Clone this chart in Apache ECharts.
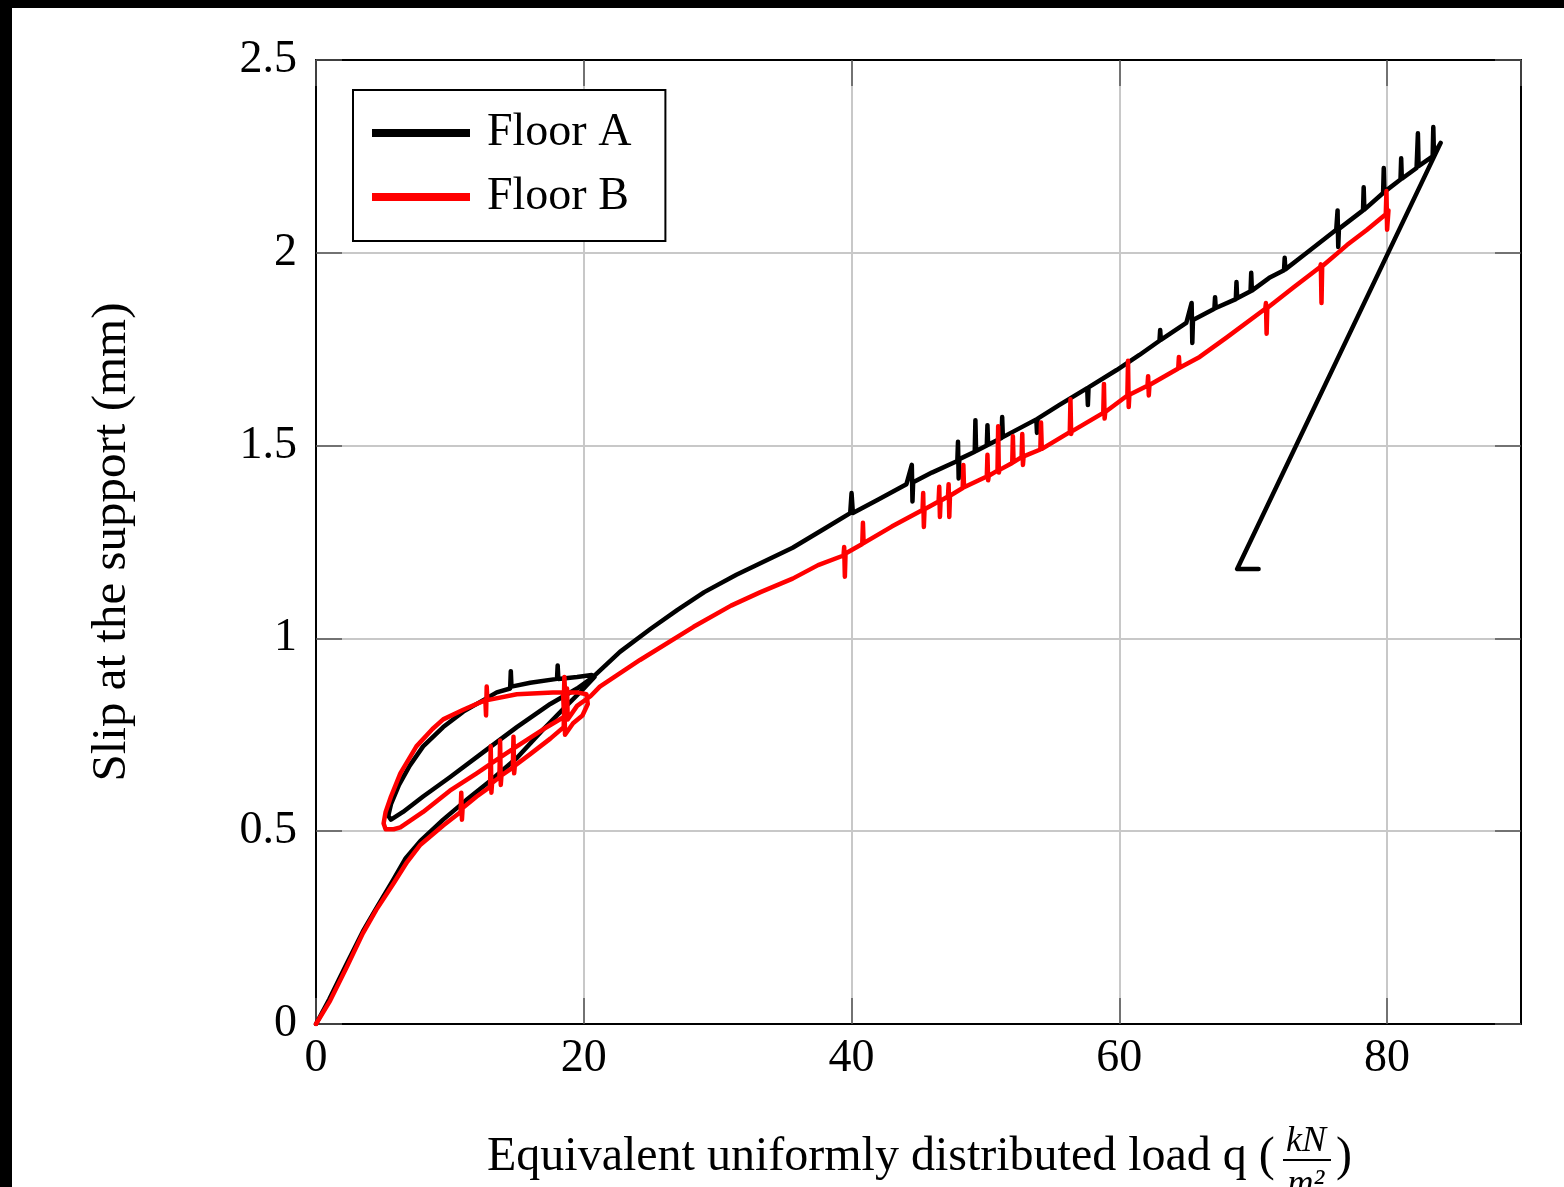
<!DOCTYPE html>
<html>
<head>
<meta charset="utf-8">
<script src="https://cdn.jsdelivr.net/npm/echarts@6/dist/echarts.min.js"></script>
<style>
html,body{margin:0;padding:0;background:#fff;}
#chart{width:1564px;height:1187px;}
</style>
</head>
<body>
<div id="chart"></div>
<script>
// ---- Data (q in kN/m2, slip in mm) ----
var xTicks = [0, 20, 40, 60, 80];
var yTicks = [0, 0.5, 1, 1.5, 2, 2.5];

// Floor A (black)
var floorA_initial = [[0,0],[1,0.065],[2.2,0.15],[3.5,0.24],[4.5,0.3],[5.7,0.37],[6.7,0.43],[7.8,0.475],[9.5,0.53],[11.2,0.58],[13,0.63],[15,0.69],[17,0.765],[18.7,0.825],[20,0.87],[20.8,0.9]];
var floorA_unload1 = [[20.6,0.905],[19.5,0.9],[18.1,0.895],[18.05,0.93],[18,0.895],[16,0.885],[14.6,0.875],[14.55,0.915],[14.5,0.87],[13.5,0.86],[12.5,0.84],[11,0.81],[9.5,0.77],[8,0.72],[7,0.67],[6.2,0.62],[5.6,0.57],[5.4,0.54]];
var floorA_reload = [[5.6,0.53],[6.5,0.55],[8,0.59],[10,0.64],[12.5,0.705],[15,0.77],[17.5,0.83],[19.5,0.87],[20.7,0.9]];
var floorA_main = [[22.7,0.965],[25,1.025],[27,1.074],[29,1.12],[31.4,1.165],[33.5,1.2],[35.6,1.235],[38,1.285],[39.9,1.325],[40,1.377],[40.1,1.325],[42,1.36],[44.1,1.4],[44.5,1.45],[44.55,1.355],[44.6,1.405],[46,1.43],[47.9,1.46],[47.95,1.51],[48,1.415],[48.05,1.465],[49.2,1.484],[49.25,1.566],[49.3,1.486],[50.1,1.5],[50.15,1.553],[50.2,1.502],[51.2,1.52],[51.25,1.574],[51.3,1.522],[53.8,1.568],[53.85,1.533],[53.9,1.57],[55.5,1.605],[57.6,1.649],[57.65,1.605],[57.7,1.651],[59.8,1.696],[61.5,1.735],[63,1.772],[63.05,1.8],[63.1,1.774],[65,1.818],[65.4,1.87],[65.45,1.766],[65.5,1.826],[67.1,1.855],[67.15,1.885],[67.2,1.857],[68.7,1.88],[68.75,1.924],[68.8,1.882],[69.8,1.9],[69.85,1.948],[69.9,1.902],[71.2,1.935],[72.3,1.955],[72.35,1.987],[72.4,1.957],[74,2.0],[76.2,2.06],[76.3,2.11],[76.35,2.015],[76.4,2.062],[78.2,2.11],[78.25,2.17],[78.3,2.112],[79.7,2.155],[79.75,2.22],[79.8,2.158],[81,2.19],[81.05,2.245],[81.1,2.192],[82.2,2.22],[82.3,2.31],[82.35,2.225],[83.4,2.25],[83.45,2.326],[83.5,2.255],[84,2.285]];
var floorA_unload2 = [[68.8,1.18],[70.4,1.18]];

// Floor B (red)
var floorB_initial = [[0,0],[1.05,0.06],[2.3,0.148],[3.5,0.235],[4.5,0.296],[5.8,0.365],[6.8,0.42],[7.8,0.465],[9.5,0.515],[10.8,0.55],[10.85,0.6],[10.9,0.53],[10.95,0.56],[12,0.59],[13,0.615],[13.05,0.72],[13.1,0.6],[13.15,0.625],[13.7,0.64],[13.75,0.735],[13.8,0.62],[13.85,0.645],[14.7,0.665],[14.75,0.745],[14.8,0.65],[14.85,0.67],[16,0.7],[17.5,0.74],[18.5,0.77],[18.55,0.84],[18.6,0.75],[19.2,0.78],[19.9,0.8],[20.3,0.83]];
var floorB_unload1 = [[20.2,0.855],[19.5,0.86],[18.6,0.86],[18.55,0.9],[18.5,0.82],[18.45,0.86],[17.7,0.86],[15,0.855],[12.8,0.84],[12.75,0.875],[12.7,0.8],[12.65,0.84],[11,0.815],[9.5,0.79],[8.7,0.765],[7.5,0.72],[6.3,0.65],[5.6,0.59],[5.2,0.55],[5.05,0.52],[5.2,0.505],[5.8,0.505]];
var floorB_reload = [[6.3,0.51],[8,0.55],[10,0.605],[12,0.65],[13.7,0.69],[15,0.72],[17,0.765],[18.7,0.8],[18.75,0.87],[18.8,0.79],[19.5,0.825],[20.5,0.85],[21.2,0.875]];
var floorB_main = [[24.2,0.944],[28.2,1.03],[31,1.085],[33.2,1.12],[35.6,1.155],[37.5,1.19],[39.4,1.215],[39.45,1.237],[39.5,1.16],[39.55,1.22],[40.8,1.245],[40.85,1.3],[40.9,1.247],[43,1.29],[45.3,1.333],[45.35,1.377],[45.4,1.289],[45.45,1.335],[46.5,1.355],[46.55,1.393],[46.6,1.315],[46.65,1.357],[47.2,1.368],[47.25,1.4],[47.3,1.315],[47.35,1.37],[48.3,1.39],[48.35,1.45],[48.4,1.392],[50.1,1.42],[50.15,1.476],[50.2,1.41],[50.25,1.422],[50.9,1.435],[50.95,1.55],[51,1.43],[51.05,1.437],[52,1.455],[52.05,1.524],[52.1,1.457],[52.7,1.47],[52.75,1.53],[52.8,1.45],[52.85,1.472],[54.1,1.49],[54.15,1.56],[54.2,1.5],[54.25,1.492],[56.3,1.535],[56.35,1.62],[56.4,1.53],[56.45,1.537],[58.8,1.585],[58.85,1.66],[58.9,1.57],[58.95,1.587],[60.6,1.63],[60.65,1.72],[60.7,1.6],[60.75,1.632],[62.1,1.655],[62.15,1.68],[62.2,1.63],[62.25,1.657],[64.4,1.7],[64.45,1.73],[64.5,1.702],[66,1.73],[68,1.78],[70.9,1.855],[70.95,1.87],[71,1.79],[71.05,1.857],[73,1.91],[75,1.963],[75.05,1.97],[75.1,1.87],[75.15,1.965],[77,2.02],[78.5,2.06],[79.9,2.1],[79.95,2.16],[80,2.06],[80.1,2.11]];

var floorA = [].concat(floorA_initial, floorA_unload1, floorA_reload, floorA_main, floorA_unload2);
var floorB = [].concat(floorB_initial, floorB_unload1, floorB_reload, floorB_main);

var FONT = 'Liberation Serif';
var chart = echarts.init(document.getElementById('chart'));

var tickStyle = { show: true, inside: true, length: 26, lineStyle: { color: '#555', width: 1.5 } };

chart.setOption({
  backgroundColor: '#ffffff',
  animation: false,
  grid: { left: 316, top: 60, right: 43, bottom: 163, containLabel: false },
  legend: {
    left: 353, top: 90,
    orient: 'vertical',
    data: [{ name: 'Floor A', icon: 'rect' }, { name: 'Floor B', icon: 'rect' }],
    itemWidth: 98, itemHeight: 8, itemGap: 18,
    padding: [20, 34, 21, 19],
    borderColor: '#000', borderWidth: 2, borderRadius: 0,
    backgroundColor: '#fff',
    textStyle: { fontFamily: FONT, fontSize: 46, lineHeight: 46, color: '#000', padding: [0, 0, 0, 12] }
  },
  xAxis: [{
    type: 'value', min: 0, max: 90, interval: 20, position: 'bottom',
    axisLine: { show: true, onZero: false, lineStyle: { color: '#000', width: 2 } },
    axisTick: tickStyle,
    axisLabel: { showMaxLabel: false, margin: 12, fontFamily: FONT, fontSize: 46, color: '#000',
      formatter: function (v) { return xTicks.indexOf(v) >= 0 ? String(v) : ''; } },
    splitLine: { show: true, lineStyle: { color: '#c8c8c8', width: 2 } }
  }, {
    type: 'value', min: 0, max: 90, interval: 20, position: 'top',
    axisLine: { show: true, onZero: false, lineStyle: { color: '#000', width: 2 } },
    axisTick: tickStyle, axisLabel: { show: false }, splitLine: { show: false }
  }],
  yAxis: [{
    type: 'value', min: 0, max: 2.5, interval: 0.5, position: 'left',
    axisLine: { show: true, onZero: false, lineStyle: { color: '#000', width: 2 } },
    axisTick: tickStyle,
    axisLabel: { margin: 19, fontFamily: FONT, fontSize: 46, color: '#000',
      formatter: function (v) { return yTicks.indexOf(v) >= 0 ? String(v) : ''; } },
    splitLine: { show: true, lineStyle: { color: '#c8c8c8', width: 2 } }
  }, {
    type: 'value', min: 0, max: 2.5, interval: 0.5, position: 'right',
    axisLine: { show: true, onZero: false, lineStyle: { color: '#000', width: 2 } },
    axisTick: tickStyle, axisLabel: { show: false }, splitLine: { show: false }
  }],
  series: [{
    name: 'Floor A', type: 'line', data: floorA, showSymbol: false, symbol: 'none',
    lineStyle: { color: '#000', width: 4.5, join: 'round', cap: 'round' }, itemStyle: { color: '#000' }, z: 3
  }, {
    name: 'Floor B', type: 'line', data: floorB, showSymbol: false, symbol: 'none',
    lineStyle: { color: '#ff0000', width: 4.5, join: 'round', cap: 'round' }, itemStyle: { color: '#ff0000' }, z: 4
  }],
  graphic: [
    { type: 'rect', left: 0, top: 0, shape: { width: 1564, height: 8 }, style: { fill: '#000' }, silent: true },
    { type: 'rect', left: 0, top: 0, shape: { width: 12, height: 1187 }, style: { fill: '#000' }, silent: true },
    { type: 'text', x: 112, y: 542, rotation: Math.PI / 2,
      style: { text: 'Slip at the support (mm)', font: '49px "Liberation Serif"', fill: '#000', textAlign: 'center', textVerticalAlign: 'middle' } },
    { type: 'text', x: 487, y: 1157,
      style: { text: 'Equivalent uniformly distributed load q (', font: '48px "Liberation Serif"', fill: '#000', textAlign: 'left', textVerticalAlign: 'middle' } },
    { type: 'text', x: 1306, y: 1142,
      style: { text: 'kN', font: 'italic 36px "Liberation Serif"', fill: '#000', textAlign: 'center', textVerticalAlign: 'middle' } },
    { type: 'line', shape: { x1: 1283, y1: 1160, x2: 1331, y2: 1160 }, style: { stroke: '#000', lineWidth: 2 } },
    { type: 'text', x: 1306, y: 1185,
      style: { text: 'm²', font: 'italic 36px "Liberation Serif"', fill: '#000', textAlign: 'center', textVerticalAlign: 'middle' } },
    { type: 'text', x: 1336, y: 1157,
      style: { text: ')', font: '48px "Liberation Serif"', fill: '#000', textAlign: 'left', textVerticalAlign: 'middle' } }
  ]
});
</script>
</body>
</html>
